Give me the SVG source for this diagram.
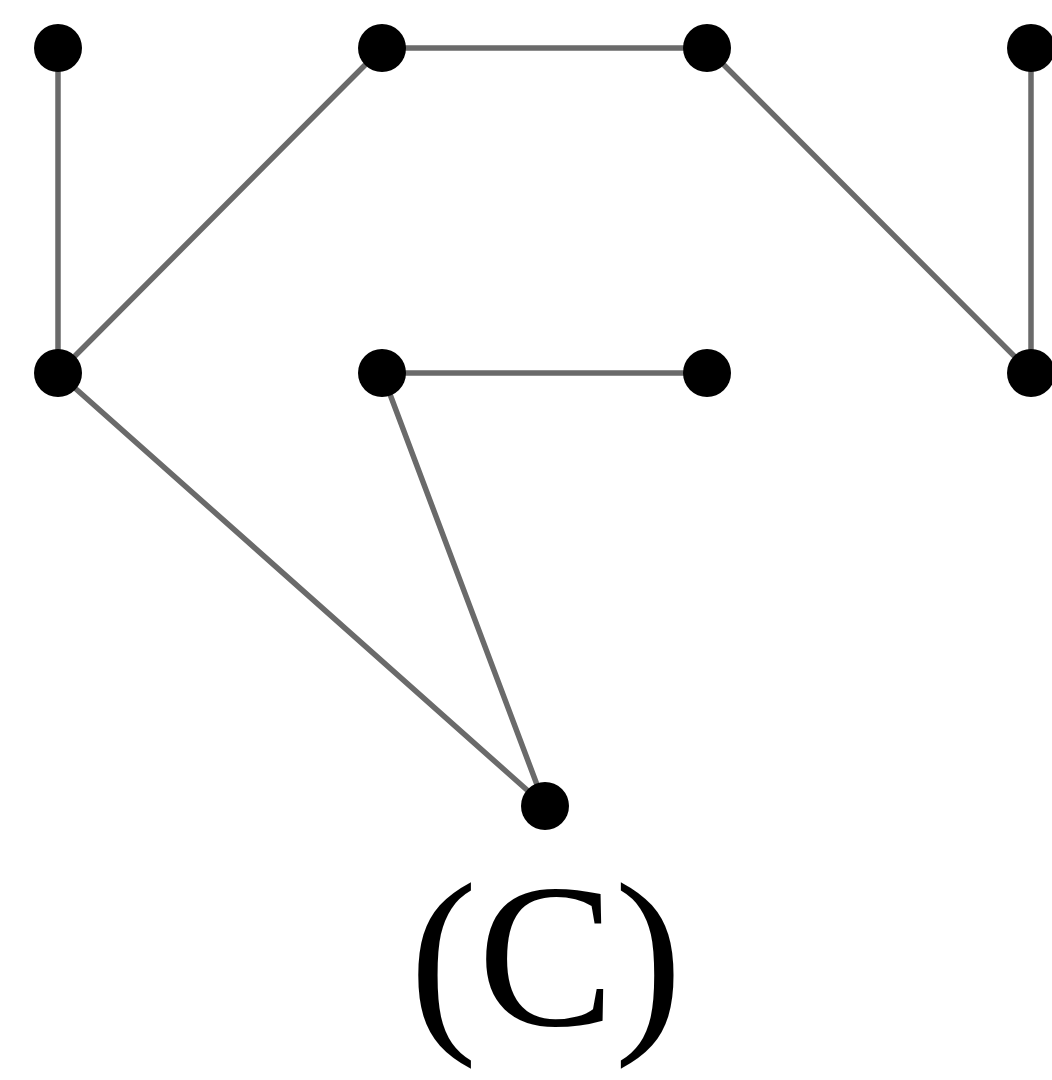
<svg xmlns="http://www.w3.org/2000/svg" width="1052" height="1080" viewBox="0 0 1052 1080">
<style>
.edge{stroke:#6a6a6a;stroke-width:5.5;stroke-linecap:round;fill:none}
.node{fill:#000}
.label{font-size:205px;fill:#000}
</style>
<rect width="1052" height="1080" fill="#fff"/>
<g id="connectors">
<line class="edge" x1="58" y1="48" x2="58" y2="373"/>
<line class="edge" x1="58" y1="373" x2="382" y2="48"/>
<line class="edge" x1="382" y1="48" x2="707" y2="48"/>
<line class="edge" x1="707" y1="48" x2="1031" y2="373"/>
<line class="edge" x1="1031" y1="48" x2="1031" y2="373"/>
<line class="edge" x1="58" y1="373" x2="545" y2="806"/>
<line class="edge" x1="382" y1="373" x2="707" y2="373"/>
<line class="edge" x1="382" y1="373" x2="545" y2="806"/>
</g>
<g id="n1"><circle class="node" cx="58" cy="48" r="24"/></g>
<g id="n2"><circle class="node" cx="382" cy="48" r="24"/></g>
<g id="n3"><circle class="node" cx="707" cy="48" r="24"/></g>
<g id="n4"><circle class="node" cx="1031" cy="48" r="24"/></g>
<g id="n5"><circle class="node" cx="58" cy="373" r="24"/></g>
<g id="n6"><circle class="node" cx="382" cy="373" r="24"/></g>
<g id="n7"><circle class="node" cx="707" cy="373" r="24"/></g>
<g id="n8"><circle class="node" cx="1031" cy="373" r="24"/></g>
<g id="n9"><circle class="node" cx="545" cy="806" r="24"/></g>
<g id="caption"><text class="label" font-family="'Liberation Serif', 'Times New Roman', serif" x="546" y="1025" text-anchor="middle">(C)</text></g>
</svg>
